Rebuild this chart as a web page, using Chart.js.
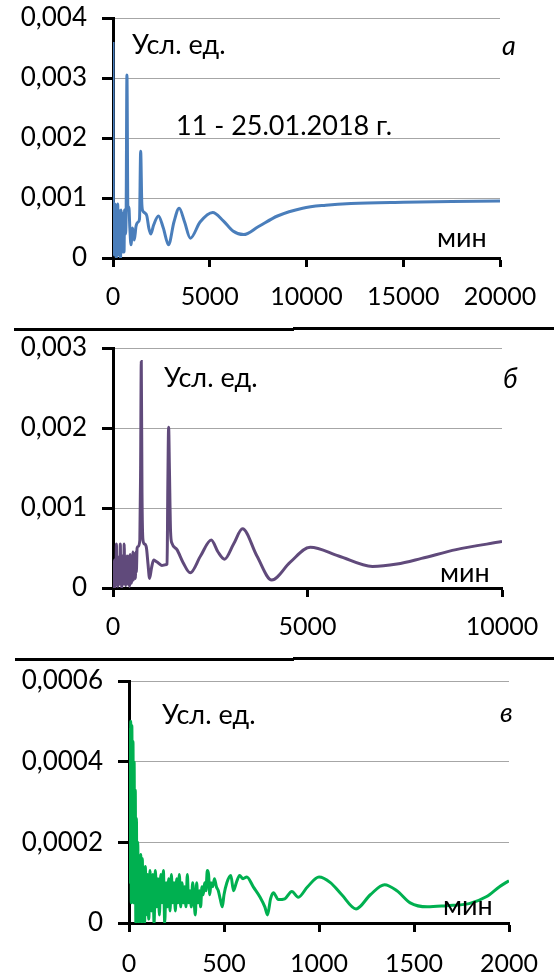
<!DOCTYPE html>
<html><head><meta charset="utf-8">
<script src="https://cdn.jsdelivr.net/npm/chart.js@4"></script>
<style>
html,body{margin:0;padding:0;background:#fff;width:554px;height:976px;overflow:hidden;position:relative;}
canvas{position:absolute;left:0;}
.sep{position:absolute;height:3px;background:#000;}
</style></head><body>
<canvas id="ca" width="554" height="325" style="top:0px"></canvas>
<canvas id="cb" width="554" height="325" style="top:330px"></canvas>
<canvas id="cc" width="554" height="316" style="top:660px"></canvas>
<div class="sep" style="top:328px;left:14px;width:280px"></div>
<div class="sep" style="top:327px;left:293px;width:261px"></div>
<div class="sep" style="top:658px;left:15px;width:279px"></div>
<div class="sep" style="top:657px;left:293px;width:261px"></div>
<script>
// ---------- Panel а (11 - 25.01.2018) ----------
const xA = [0,15,30,50,70,95,120,145,170,195,
  220,245,270,300,330,360,390,420,450,480,
  510,540,570,600,640,680,720,770,820,870,
  930,1010,1100,1190,1300,1370,1430,1490,1550,1650,
  1750,1850,1950,2100,2350,2600,2870,3150,3420,3700,
  4000,4500,5150,5700,6200,6750,7500,8500,9800,11000,
  12300,15000,17500,20000];
const yA = [0.0036,0.0012,0.0001,0.0008,0.00005,0.0009,0.0002,0.00085,0.0,0.0007,
  0.00015,0.0009,0.00005,0.0008,0.0003,0.00075,0.0,0.0008,0.0002,0.0007,
  0.0001,0.00075,0.0001,0.0008,0.0004,0.0008,0.00305,0.0008,0.00085,0.0005,
  0.00022,0.0005,0.0003,0.00053,0.0006,0.00065,0.00178,0.0009,0.00078,0.00075,
  0.0007,0.0005,0.0004,0.00055,0.0007,0.0005,0.00022,0.0006,0.00083,0.0006,
  0.00033,0.0006,0.00076,0.00062,0.00045,0.00039,0.00052,0.0007,0.00083,0.00088,
  0.00091,0.00093,0.00094,0.00095];
const xTicksA = ['0','5000','10000','15000','20000'];
const yTicksA = ['0','0,001','0,002','0,003','0,004'];

// ---------- Panel б ----------
const xB = [0,12,25,38,50,62,75,88,100,112,
  125,138,150,162,175,188,200,212,225,238,
  250,262,275,288,300,312,325,338,350,362,
  375,388,400,412,425,438,450,462,475,488,
  500,512,525,538,550,562,575,588,600,620,
  650,690,710,727,745,770,810,860,900,940,
  990,1044,1110,1172,1258,1344,1390,1410,1430,1450,
  1480,1515,1644,1800,1986,2250,2525,2700,2867,3100,
  3330,3700,4080,4550,5070,5800,6670,7300,7930,8820,
  10000];
const yB = [0,0.0003,0.00005,0.00035,0.0,0.0003,0.00008,0.00055,0.0001,0.0004,
  0.00002,0.00035,0.0001,0.0003,0.00005,0.00055,0.0001,0.00038,0.0,0.0004,
  0.00008,0.0003,0.00005,0.00055,0.00012,0.0004,0.00003,0.00035,0.0001,0.0004,
  0.00005,0.00038,0.00012,0.0004,0.00002,0.00042,0.00015,0.00035,0.00006,0.0004,
  0.00012,0.00045,0.0001,0.00043,0.00015,0.0004,0.00012,0.00045,0.0002,0.0005,
  0.00052,0.0006,0.0015,0.00283,0.0012,0.0006,0.00055,0.0005,0.0003,0.00012,
  0.00025,0.00035,0.00033,0.00031,0.00028,0.00029,0.0003,0.0013,0.00201,0.0015,
  0.0007,0.00056,0.00048,0.00032,0.00019,0.0004,0.0006,0.00045,0.00036,0.00055,
  0.00074,0.0004,0.0001,0.00032,0.00051,0.0004,0.00027,0.0003,0.00037,0.00048,
  0.00058];
const xTicksB = ['0','5000','10000'];
const yTicksB = ['0','0,001','0,002','0,003'];

// ---------- Panel в ----------
const xC = [0,3,6,9,12,15,18,21,24,27,
  30,33,36,39,42,46,50,54,58,62,
  66,70,74,78,82,86,90,97,104,111,
  118,125,132,139,146,153,160,167,174,181,
  188,195,202,209,216,223,230,237,244,251,
  258,265,272,279,286,293,300,307,314,321,
  328,335,342,349,356,363,370,377,384,391,
  398,405,412,419,425,432,440,450,460,470,
  480,491,500,515,536,550,565,582,600,620,
  655,690,715,729,745,760,786,820,857,891,
  940,1000,1060,1120,1195,1270,1345,1410,1480,1570,
  1670,1790,1880,1950,2000];
const yC = [0.0001,0.00048,0.0001,0.0005,0.00005,0.00049,0.0002,0.00045,0.00005,0.0004,
  0.0001,0.00033,0.0,0.00026,0.00002,0.0002,0.0,0.00015,0.00003,0.00017,
  0.0,0.00016,0.00002,0.00012,0.0,0.00014,0.00002,0.00012,0.00001,0.00013,
  0.00003,0.00012,0.0,0.00013,0.00004,0.00011,0.00002,0.00012,0.00005,0.00013,
  0.0,0.0001,0.00004,0.00011,0.00003,0.00012,0.00005,0.0001,0.00003,0.00011,
  0.00005,0.00012,0.00004,0.0001,0.00005,0.00009,0.00004,0.00012,0.00005,0.00008,
  0.00004,0.0001,0.00006,0.00002,0.0001,0.00005,0.00008,0.00004,0.00009,0.00007,
  0.0001,0.00008,0.00013,0.00012,0.00007,0.0001,0.00009,0.00011,0.00009,0.00008,
  0.00006,0.00004,0.00007,0.0001,0.000118,0.00008,0.0001,0.000118,0.00011,0.000114,
  0.000089,0.000064,0.00004,0.00002,0.00006,0.000075,0.000058,0.00006,0.000078,0.000064,
  0.00009,0.000114,0.0001,0.00007,0.000035,0.00007,0.000095,0.00008,0.00005,0.00004,
  0.000043,0.000048,0.000065,0.00009,0.000105];
const xTicksC = ['0','500','1000','1500','2000'];
const yTicksC = ['0','0,0002','0,0004','0,0006'];

const FONT = 'Lato';

const textPlugin = {
  id: 'texts',
  afterDraw(chart, args, opts) {
    const ctx = chart.ctx;
    ctx.save();
    ctx.fillStyle = '#000';
    ctx.textBaseline = 'alphabetic';
    ctx.textAlign = 'left';
    for (const t of opts.items) {
      ctx.font = (t.italic ? 'italic ' : '') + t.size + 'px ' + FONT;
      ctx.fillText(t.text, t.x, t.y - opts.top);
    }
    ctx.restore();
  }
};

function makeChart(cfg) {
  const canvas = document.getElementById(cfg.id);
  const H = canvas.height;
  const pts = cfg.xs.map((x, i) => ({x: x, y: cfg.ys[i]}));
  new Chart(canvas, {
    type: 'line',
    data: { datasets: [{
      data: pts, borderColor: cfg.color, borderWidth: 3, pointRadius: 0,
      cubicInterpolationMode: 'monotone', fill: false
    }]},
    options: {
      responsive: false, animation: false,
      layout: { padding: { left: 0, right: 554 - cfg.right, top: cfg.plotTop - cfg.top, bottom: 0 } },
      plugins: { legend: {display: false}, tooltip: {enabled: false},
        texts: { items: cfg.texts, top: cfg.top } },
      scales: {
        x: {
          type: 'linear', min: 0, max: cfg.xMax,
          afterFit: s => { s.height = H - (cfg.plotBottom - cfg.top); s.paddingLeft = 0; s.paddingRight = 0; },
          border: { display: true, color: '#000', width: 3 },
          grid: { drawOnChartArea: false, color: '#000', tickColor: '#000', tickLength: 9, tickWidth: 3 },
          ticks: { stepSize: cfg.xStep, color: '#000', padding: cfg.xPad, maxRotation: 0, autoSkip: false,
            font: { family: FONT, size: 25 },
            callback: v => cfg.xLabels[Math.round(v / cfg.xStep)] }
        },
        y: {
          min: 0, max: cfg.yMax,
          afterFit: s => { s.width = cfg.left; s.paddingTop = 0; s.paddingBottom = 0; },
          border: { display: true, color: '#000', width: 3 },
          grid: { color: c => (c.tick && c.tick.value === 0) ? 'rgba(0,0,0,0)' : '#a6a6a6',
            lineWidth: 1, tickColor: '#000', tickLength: 11, tickWidth: 3 },
          ticks: { stepSize: cfg.yStep, color: '#000', padding: 15,
            font: { family: FONT, size: 26 },
            callback: v => cfg.yLabels[Math.round(v / cfg.yStep)] }
        }
      }
    },
    plugins: [textPlugin]
  });
}

makeChart({ id: 'ca', top: 0, plotTop: 18, plotBottom: 258, left: 113, right: 500,
  xs: xA, ys: yA, color: '#4A7EBB', xMax: 20000, xStep: 5000, yMax: 0.004, yStep: 0.001,
  xLabels: xTicksA, yLabels: yTicksA, xPad: 15,
  texts: [
    {text: 'Усл. ед.', x: 132, y: 54, size: 27},
    {text: 'а', x: 502, y: 55, size: 27, italic: true},
    {text: '11 - 25.01.2018 г.', x: 176, y: 135, size: 27},
    {text: 'мин', x: 437, y: 247, size: 27}
  ]});

makeChart({ id: 'cb', top: 330, plotTop: 348, plotBottom: 588, left: 113, right: 502,
  xs: xB, ys: yB, color: '#604A7B', xMax: 10000, xStep: 5000, yMax: 0.003, yStep: 0.001,
  xLabels: xTicksB, yLabels: yTicksB, xPad: 15,
  texts: [
    {text: 'Усл. ед.', x: 164, y: 387, size: 27},
    {text: 'б', x: 503, y: 388, size: 27, italic: true},
    {text: 'мин', x: 440, y: 582, size: 27}
  ]});

makeChart({ id: 'cc', top: 660, plotTop: 681, plotBottom: 923, left: 129, right: 509,
  xs: xC, ys: yC, color: '#00B050', xMax: 2000, xStep: 500, yMax: 0.0006, yStep: 0.0002,
  xLabels: xTicksC, yLabels: yTicksC, xPad: 17,
  texts: [
    {text: 'Усл. ед.', x: 162, y: 724, size: 27},
    {text: 'в', x: 500, y: 722, size: 27, italic: true},
    {text: 'мин', x: 443, y: 915, size: 27}
  ]});
</script>
</body></html>
